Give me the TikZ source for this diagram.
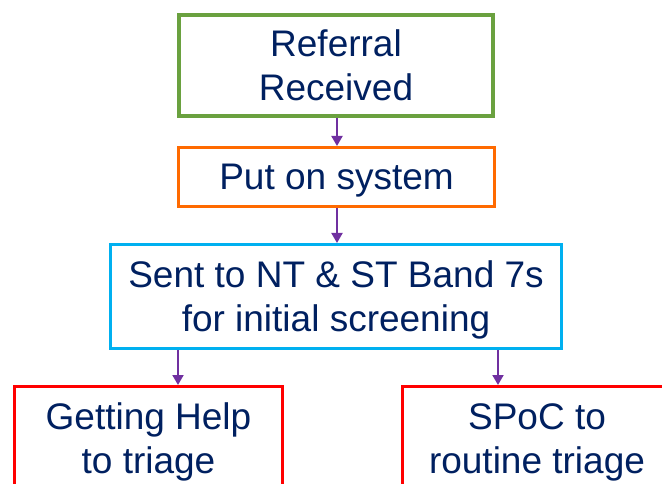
\documentclass[tikz,border=0pt]{standalone}
\usepackage{fontspec}
\setmainfont{Liberation Sans}
\usetikzlibrary{arrows.meta}
\definecolor{navy}{HTML}{002060}
\definecolor{bgreen}{HTML}{6AA13F}
\definecolor{borange}{HTML}{FF6A00}
\definecolor{bcyan}{HTML}{00B0F0}
\definecolor{bred}{HTML}{FF0000}
\definecolor{apurple}{HTML}{7030A0}
\newcommand{\ls}{\rule[-8pt]{0pt}{42pt}}
\tikzset{
  boxbase/.style={draw, rectangle, align=center, text=navy, inner sep=0pt,
    font=\fontsize{37}{44.5}\selectfont},
  arr/.style={draw=apurple, line width=2pt, -{Triangle[width=11pt,length=10pt]}, apurple}
}
\begin{document}
\begin{tikzpicture}[x=1pt,y=-1pt]
\useasboundingbox (0,0) rectangle (662,484);
\node[boxbase, draw=bgreen, line width=4pt, minimum width=314pt, minimum height=101pt]
  (ref) at (336,65.5) {\ls Referral\\\ls Received};
\node[boxbase, draw=borange, line width=3pt, minimum width=316pt, minimum height=59pt]
  (put) at (336.5,177) {\ls Put on system};
\node[boxbase, draw=bcyan, line width=3pt, minimum width=451pt, minimum height=104pt]
  (sent) at (336,296.5) {\ls Sent to NT \& ST Band 7s\\\ls for initial screening};
\node[boxbase, draw=bred, line width=3pt, minimum width=268.5pt, minimum height=104pt]
  (gh) at (148.5,438.5) {\ls Getting Help\\\ls to triage};
\node[boxbase, draw=bred, line width=3pt, minimum width=269pt, minimum height=104pt]
  (spoc) at (537,438.5) {\ls SPoC to\\\ls routine triage};
\coordinate (la) at (178,0);
\coordinate (ra) at (498,0);
\coordinate (ma) at (337,0);
\draw[arr] (ref.south -| ma) -- (put.north -| ma);
\draw[arr] (put.south -| ma) -- (sent.north -| ma);
\draw[arr] (sent.south -| la) -- (gh.north -| la);
\draw[arr] (sent.south -| ra) -- (spoc.north -| ra);
\end{tikzpicture}
\end{document}
